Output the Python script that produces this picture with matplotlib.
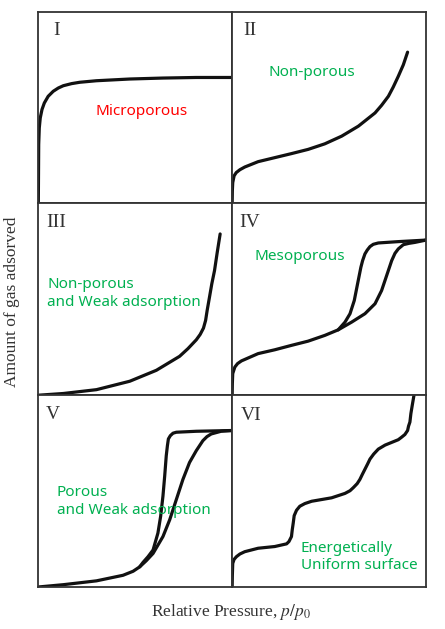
import matplotlib
matplotlib.use('Agg')
from matplotlib import pyplot as plt

# isotherm shapes (relative pressure 0-1, amount 0-1)
t1_x = [0, 0.002, 0.005, 0.010, 0.019, 0.031, 0.051, 0.077, 0.103, 0.129, 0.172, 0.214,
        0.300, 0.472, 0.643, 0.815, 1.0]
t1_y = [0, 0.308, 0.394, 0.446, 0.490, 0.524, 0.559, 0.585, 0.602, 0.614, 0.625, 0.632,
        0.640, 0.649, 0.654, 0.657, 0.657]

t2_x = [0, 0.001, 0.003, 0.010, 0.021, 0.040, 0.065, 0.134, 0.220, 0.306, 0.392, 0.478,
        0.565, 0.651, 0.737, 0.771, 0.806, 0.831, 0.857, 0.883, 0.905]
t2_y = [0, 0.066, 0.109, 0.144, 0.161, 0.176, 0.190, 0.218, 0.239, 0.260, 0.282, 0.311,
        0.351, 0.403, 0.472, 0.512, 0.559, 0.607, 0.663, 0.723, 0.789]

t3_x = [0, 0.129, 0.300, 0.472, 0.609, 0.729, 0.772, 0.815, 0.835, 0.852, 0.863, 0.871,
        0.883, 0.895, 0.909, 0.923, 0.938]
t3_y = [0, 0.009, 0.029, 0.073, 0.130, 0.203, 0.243, 0.289, 0.317, 0.350, 0.390, 0.442,
        0.511, 0.581, 0.650, 0.745, 0.841]

t4_ads_x = [0, 0.001, 0.003, 0.014, 0.028, 0.048, 0.134, 0.220, 0.306, 0.392, 0.478, 0.547,
            0.616, 0.685, 0.737, 0.771, 0.797, 0.823, 0.840, 0.857, 0.883, 0.912, 0.943, 1.0]
t4_ads_y = [0, 0.061, 0.113, 0.147, 0.165, 0.179, 0.217, 0.237, 0.260, 0.282, 0.312, 0.341,
            0.381, 0.425, 0.477, 0.546, 0.624, 0.702, 0.740, 0.763, 0.785, 0.792, 0.797, 0.809]
t4_des_x = [1.0, 0.857, 0.754, 0.728, 0.711, 0.697, 0.685, 0.673, 0.664, 0.647, 0.630,
            0.608, 0.582, 0.547]
t4_des_y = [0.809, 0.801, 0.794, 0.787, 0.775, 0.757, 0.737, 0.702, 0.667, 0.581, 0.494,
            0.425, 0.381, 0.341]

t5_ads_x = [0, 0.129, 0.300, 0.437, 0.489, 0.523, 0.557, 0.592, 0.643, 0.678, 0.712, 0.746,
            0.780, 0.815, 0.832, 0.849, 0.870, 0.892, 0.943, 1.0]
t5_ads_y = [0, 0.012, 0.032, 0.061, 0.082, 0.105, 0.137, 0.175, 0.263, 0.351, 0.456, 0.561,
            0.649, 0.711, 0.737, 0.763, 0.784, 0.798, 0.812, 0.816]
t5_des_x = [1.0, 0.815, 0.712, 0.695, 0.681, 0.671, 0.666, 0.660, 0.652, 0.643, 0.631,
            0.617, 0.592, 0.566, 0.540, 0.523]
t5_des_y = [0.816, 0.812, 0.807, 0.802, 0.789, 0.772, 0.737, 0.684, 0.579, 0.474, 0.368,
            0.281, 0.193, 0.158, 0.128, 0.105]

t6_x = [0, 0.001, 0.003, 0.010, 0.022, 0.040, 0.065, 0.134, 0.220, 0.281, 0.293, 0.306,
        0.310, 0.315, 0.320, 0.332, 0.349, 0.375, 0.410, 0.513, 0.582, 0.608, 0.625, 0.645,
        0.659, 0.671, 0.685, 0.699, 0.711, 0.730, 0.754, 0.789, 0.823, 0.857, 0.874, 0.891,
        0.905, 0.910, 0.917, 0.922, 0.929, 0.938]
t6_y = [0, 0.061, 0.123, 0.144, 0.158, 0.172, 0.184, 0.202, 0.211, 0.225, 0.237, 0.263,
        0.298, 0.333, 0.372, 0.400, 0.421, 0.435, 0.447, 0.465, 0.488, 0.502, 0.518, 0.539,
        0.561, 0.586, 0.614, 0.642, 0.667, 0.693, 0.719, 0.740, 0.754, 0.768, 0.781, 0.795,
        0.816, 0.839, 0.860, 0.904, 0.947, 1.0]

numerals = ['I', 'II', 'III', 'IV', 'V', 'VI']
notes = ['Microporous', 'Non-porous', 'Non-porous\nand Weak adsorption', 'Mesoporous',
         'Porous\nand Weak adsorption', 'Energetically\nUniform surface']

curves = [
    [(t1_x, t1_y)],
    [(t2_x, t2_y)],
    [(t3_x, t3_y)],
    [(t4_ads_x, t4_ads_y), (t4_des_x, t4_des_y)],
    [(t5_ads_x, t5_ads_y), (t5_des_x, t5_des_y)],
    [(t6_x, t6_y)],
]

# numeral centres and note placement (axes fraction)
num_pos = [(0.095, 0.90), (0.091, 0.90), (0.094, 0.90), (0.091, 0.90), (0.077, 0.898), (0.096, 0.895)]
note_pos = [(0.532, 0.478, 'center'), (0.413, 0.685, 'center'), (0.046, 0.53, 'left'),
            (0.349, 0.723, 'center'), (0.094, 0.446, 'left'), (0.355, 0.156, 'left')]
note_col = ['#ff0000', '#00b050', '#00b050', '#00b050', '#00b050', '#00b050']

fig, axs = plt.subplots(3, 2, figsize=(4.45, 6.29), dpi=100)
fig.subplots_adjust(left=0.0861, right=0.9573, bottom=0.0668, top=0.9814, wspace=0, hspace=0)

for i, ax in enumerate(axs.flat):
    for xs, ys in curves[i]:
        ax.plot(xs, ys, color='#111111', lw=2.3, solid_capstyle='round', solid_joinstyle='round')
    ax.set_xlim(0, 1)
    ax.set_ylim(0, 1)
    ax.set_xticks([])
    ax.set_yticks([])
    for s in ax.spines.values():
        s.set_color('#333333')
        s.set_linewidth(1.3)
    ax.text(num_pos[i][0], num_pos[i][1], numerals[i], transform=ax.transAxes,
            family='Liberation Serif', fontsize=14, color='#333333', ha='center', va='center')
    nx, ny, al = note_pos[i]
    ax.text(nx, ny, notes[i], transform=ax.transAxes, family='Noto Sans', fontsize=11,
            color=note_col[i], ha=al, va='center', linespacing=1.25)

fig.text(0.027, 0.521, 'Amount of gas adsorved', rotation=90, family='Liberation Serif',
         fontsize=12.5, color='#333333', ha='center', va='center')
plt.rcParams['mathtext.fontset'] = 'stix'
fig.text(0.519, 0.027, r'Relative Pressure, $p/p_0$', family='Liberation Serif',
         fontsize=12.5, color='#333333', ha='center', va='center')

fig.savefig('out.png', dpi=100)
